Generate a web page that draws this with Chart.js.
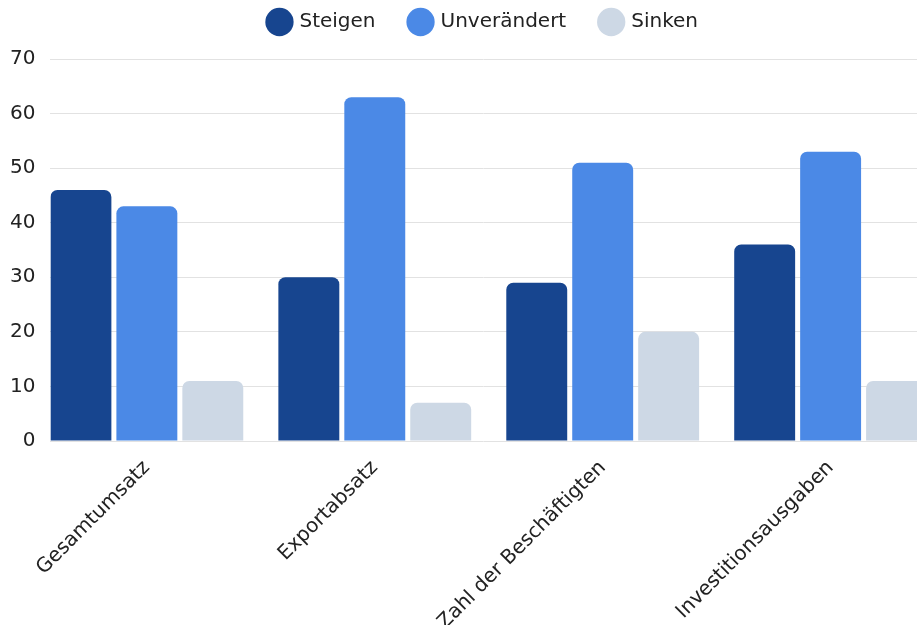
<!DOCTYPE html>
<html>
<head>
<meta charset="utf-8">
<script src="https://cdn.jsdelivr.net/npm/chart.js@4"></script>
<style>
  html, body { margin: 0; padding: 0; background: #fff; overflow: hidden; }
  #wrap { width: 917px; height: 625px; }
</style>
</head>
<body>
<div id="wrap"><canvas id="umfrageChart"></canvas></div>
<script>
const categories = ["Gesamtumsatz", "Exportabsatz", "Zahl der Beschäftigten", "Investitionsausgaben"];
const steigen = [46, 30, 29, 36];
const unveraendert = [43, 63, 51, 53];
const sinken = [11, 7, 20, 11];
const yTicks = [0, 10, 20, 30, 40, 50, 60, 70];

// bars sit on a linear x axis so the first group can touch the left edge
let toPoints = (values) => values.map((v, i) => ({ x: i, y: v }));

let barStyle = {
  borderRadius: { topLeft: 7, topRight: 7 },
  borderSkipped: "bottom",
  categoryPercentage: 0.868,
  barPercentage: 0.924,
};

// wide gaps between legend items, but keep the legend box itself short
let legendHeight = {
  id: "legendHeight",
  beforeInit(chart) {
    const fit = chart.legend.fit;
    chart.legend.fit = function () {
      fit.call(this);
      this.height += 17;
    };
  },
};

new Chart("umfrageChart", {
  type: "bar",
  data: {
    datasets: [
      { label: "Steigen", data: toPoints(steigen), backgroundColor: "#17458f", ...barStyle },
      { label: "Unverändert", data: toPoints(unveraendert), backgroundColor: "#4b89e6", ...barStyle },
      { label: "Sinken", data: toPoints(sinken), backgroundColor: "#cdd8e5", ...barStyle },
    ],
  },
  plugins: [legendHeight],
  options: {
    responsive: true,
    maintainAspectRatio: false,
    animation: false,
    layout: { padding: { top: -23, left: -5, right: 0, bottom: 0 } },
    plugins: {
      tooltip: { enabled: false },
      legend: {
        position: "top",
        fullSize: false,
        labels: {
          usePointStyle: true,
          pointStyle: "circle",
          boxWidth: 20,
          boxHeight: 20,
          padding: 35,
          color: "#222",
          font: { family: "DejaVu Sans", size: 20 },
        },
      },
    },
    scales: {
      x: {
        type: "linear",
        offset: false,
        min: -0.423,
        max: 3.379,
        grid: { display: false },
        border: { display: false },
        afterBuildTicks: (axis) => {
          axis.ticks = categories.map((_, i) => ({ value: i }));
        },
        afterFit: (axis) => {
          axis.height = 184;
          axis.paddingLeft = 0;
          axis.paddingRight = 0;
        },
        ticks: {
          autoSkip: false,
          maxRotation: 45,
          minRotation: 45,
          padding: 7,
          color: "#222",
          font: { family: "DejaVu Sans", size: 20 },
          callback: (value) => categories[value],
        },
      },
      y: {
        min: 0,
        max: 70,
        afterBuildTicks: (axis) => {
          axis.ticks = yTicks.map((v) => ({ value: v }));
        },
        grid: { color: "#e2e2e2", drawTicks: false },
        border: { display: false },
        ticks: {
          padding: 15,
          color: "#222",
          font: { family: "DejaVu Sans", size: 20 },
        },
      },
    },
  },
});
</script>
</body>
</html>
